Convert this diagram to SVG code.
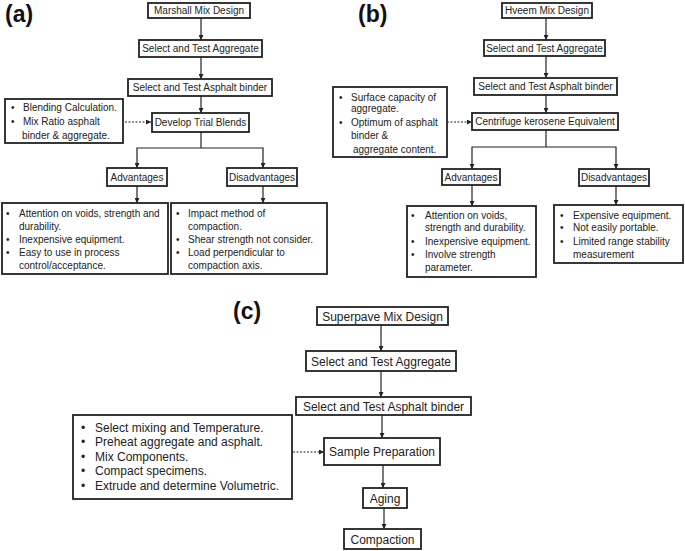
<svg xmlns="http://www.w3.org/2000/svg" width="685" height="551" viewBox="0 0 685 551">
<defs>
<marker id="ah" viewBox="0 0 6 6" refX="6" refY="3" markerWidth="5" markerHeight="5" markerUnits="userSpaceOnUse" orient="auto"><path d="M0,0 L6,3 L0,6 z" fill="#222"/></marker>
<style>
.box{fill:#fff;stroke:#222;stroke-width:1.8}
.t{font-family:"Liberation Sans",Arial,sans-serif;font-size:10px;fill:#222}
.c{text-anchor:middle}
.tl{font-family:"Liberation Sans",Arial,sans-serif;font-size:12px;fill:#222}
.lab{font-family:"Liberation Sans",Arial,sans-serif;font-size:23px;font-weight:bold;fill:#111}
.ln{fill:none;stroke:#222;stroke-width:1.2}
.ar{fill:none;stroke:#222;stroke-width:1.2;marker-end:url(#ah)}
.da{fill:none;stroke:#222;stroke-width:1;stroke-dasharray:2,1.5;marker-end:url(#ah)}
</style>
</defs>
<rect width="685" height="551" fill="#fff"/>

<text class="lab" x="5" y="22">(a)</text>
<text class="lab" x="358" y="22">(b)</text>
<text class="lab" x="233" y="319">(c)</text>

<g id="connectors">
<line class="ar" x1="201" y1="18" x2="201" y2="40"/>
<line class="ar" x1="201" y1="57" x2="201" y2="79"/>
<line class="ar" x1="201" y1="96" x2="201" y2="113"/>
<line class="da" x1="125" y1="122" x2="151" y2="122"/>
<polyline class="ln" points="201,132 201,148"/>
<polyline class="ar" points="201,148 137,148 137,168"/>
<polyline class="ar" points="201,148 263,148 263,168"/>
<line class="ar" x1="137" y1="186" x2="137" y2="203"/>
<line class="ar" x1="263" y1="186" x2="263" y2="203"/>
<line class="ar" x1="546" y1="18" x2="546" y2="40"/>
<line class="ar" x1="546" y1="56" x2="546" y2="78"/>
<line class="ar" x1="546" y1="95" x2="546" y2="113"/>
<line class="da" x1="447" y1="122" x2="472" y2="122"/>
<polyline class="ln" points="546,130 546,147"/>
<polyline class="ar" points="546,147 472,147 472,169"/>
<polyline class="ar" points="546,147 616,147 616,169"/>
<line class="ar" x1="472" y1="185" x2="472" y2="206"/>
<line class="ar" x1="616" y1="186" x2="616" y2="205"/>
<line class="ar" x1="381" y1="325" x2="381" y2="351"/>
<line class="ar" x1="381" y1="371" x2="381" y2="397"/>
<line class="ar" x1="382" y1="415" x2="382" y2="438"/>
<line class="da" x1="293" y1="452" x2="324" y2="452"/>
<line class="ar" x1="383" y1="465" x2="383" y2="488"/>
<line class="ar" x1="384" y1="508" x2="384" y2="529"/>
</g>

<g id="a_marshall"><rect class="box" x="148" y="3" width="102" height="15"/><text class="t c" x="199" y="14">Marshall Mix Design</text></g>
<g id="a_aggregate"><rect class="box" x="139" y="40" width="123" height="17"/><text class="t c" x="200.5" y="52">Select and Test Aggregate</text></g>
<g id="a_binder"><rect class="box" x="128" y="79" width="144" height="17"/><text class="t c" x="200" y="91">Select and Test Asphalt binder</text></g>
<g id="a_trial"><rect class="box" x="152" y="113" width="97" height="19"/><text class="t c" x="200.5" y="126">Develop Trial Blends</text></g>
<g id="a_note"><rect class="box" x="5" y="99" width="118" height="44"/>
<text class="t" x="11" y="110.5">•</text><text class="t" x="23" y="110.5">Blending Calculation.</text>
<text class="t" x="11" y="124.5">•</text><text class="t" x="23" y="124.5">Mix Ratio asphalt</text>
<text class="t" x="22" y="138.5">binder &amp; aggregate.</text></g>
<g id="a_adv"><rect class="box" x="107" y="168" width="60" height="18"/><text class="t c" x="137" y="180.5">Advantages</text></g>
<g id="a_dis"><rect class="box" x="227" y="168" width="70" height="18"/><text class="t c" x="262" y="180.5">Disadvantages</text></g>
<g id="a_advlist"><rect class="box" x="2" y="203" width="166" height="71"/>
<text class="t" x="6" y="216.5">•</text><text class="t" x="19" y="216.5">Attention on voids, strength and</text>
<text class="t" x="19" y="229.5">durability.</text>
<text class="t" x="6" y="242.5">•</text><text class="t" x="19" y="242.5">Inexpensive equipment.</text>
<text class="t" x="6" y="255.5">•</text><text class="t" x="19" y="255.5">Easy to use in process</text>
<text class="t" x="19" y="268.5">control/acceptance.</text></g>
<g id="a_dislist"><rect class="box" x="171" y="203" width="156" height="71"/>
<text class="t" x="176" y="216.5">•</text><text class="t" x="188" y="216.5">Impact method of</text>
<text class="t" x="188" y="229.5">compaction.</text>
<text class="t" x="176" y="242.5">•</text><text class="t" x="188" y="242.5">Shear strength not consider.</text>
<text class="t" x="176" y="255.5">•</text><text class="t" x="188" y="255.5">Load perpendicular to</text>
<text class="t" x="188" y="268.5">compaction axis.</text></g>

<g id="b_hveem"><rect class="box" x="502" y="3" width="90" height="15"/><text class="t c" x="547" y="14">Hveem Mix Design</text></g>
<g id="b_aggregate"><rect class="box" x="484" y="40" width="121" height="16"/><text class="t c" x="544.5" y="51.5">Select and Test Aggregate</text></g>
<g id="b_binder"><rect class="box" x="474" y="78" width="143" height="17"/><text class="t c" x="545.5" y="90">Select and Test Asphalt binder</text></g>
<g id="b_cke"><rect class="box" x="472" y="113" width="146" height="17"/><text class="t c" x="545" y="125">Centrifuge kerosene Equivalent</text></g>
<g id="b_note"><rect class="box" x="333" y="87" width="114" height="70"/>
<text class="t" x="339" y="100.5">•</text><text class="t" x="351" y="100.5">Surface capacity of</text>
<text class="t" x="351" y="111.5">aggregate.</text>
<text class="t" x="339" y="125.5">•</text><text class="t" x="351" y="125.5">Optimum of asphalt</text>
<text class="t" x="351" y="138.5">binder &amp;</text>
<text class="t" x="353" y="152.5">aggregate content.</text></g>
<g id="b_adv"><rect class="box" x="442" y="169" width="58" height="16"/><text class="t c" x="471" y="180.5">Advantages</text></g>
<g id="b_dis"><rect class="box" x="579" y="169" width="70" height="17"/><text class="t c" x="614" y="181">Disadvantages</text></g>
<g id="b_advlist"><rect class="box" x="407" y="206" width="129" height="71"/>
<text class="t" x="411" y="218.5">•</text><text class="t" x="425" y="218.5">Attention on voids,</text>
<text class="t" x="425" y="231">strength and durability.</text>
<text class="t" x="411" y="244.5">•</text><text class="t" x="425" y="244.5">Inexpensive equipment.</text>
<text class="t" x="411" y="257.5">•</text><text class="t" x="425" y="257.5">Involve strength</text>
<text class="t" x="425" y="270.5">parameter.</text></g>
<g id="b_dislist"><rect class="box" x="554" y="205" width="129" height="58"/>
<text class="t" x="560" y="218.5">•</text><text class="t" x="573" y="218.5">Expensive equipment.</text>
<text class="t" x="560" y="231">•</text><text class="t" x="573" y="231">Not easily portable.</text>
<text class="t" x="560" y="244.5">•</text><text class="t" x="573" y="244.5">Limited range stability</text>
<text class="t" x="573" y="257.5">measurement</text></g>

<g id="c_superpave"><rect class="box" x="317" y="307" width="131" height="18"/><text class="tl c" x="382.5" y="320.5">Superpave Mix Design</text></g>
<g id="c_aggregate"><rect class="box" x="306" y="351" width="150" height="20"/><text class="tl c" x="381" y="365.5">Select and Test Aggregate</text></g>
<g id="c_binder"><rect class="box" x="296" y="397" width="175" height="18"/><text class="tl c" x="383.5" y="410.5">Select and Test Asphalt binder</text></g>
<g id="c_sample"><rect class="box" x="324" y="438" width="116" height="27"/><text class="tl c" x="382" y="456">Sample Preparation</text></g>
<g id="c_aging"><rect class="box" x="363" y="488" width="44" height="20"/><text class="tl c" x="385" y="502.5">Aging</text></g>
<g id="c_compaction"><rect class="box" x="344" y="529" width="77" height="20"/><text class="tl c" x="382.5" y="543.5">Compaction</text></g>
<g id="c_note"><rect class="box" x="73" y="415" width="219" height="84"/>
<text class="tl" x="81" y="431.5">•</text><text class="tl" x="95" y="431.5">Select mixing and Temperature.</text>
<text class="tl" x="81" y="446">•</text><text class="tl" x="95" y="446">Preheat aggregate and asphalt.</text>
<text class="tl" x="81" y="460.5">•</text><text class="tl" x="95" y="460.5">Mix Components.</text>
<text class="tl" x="81" y="475">•</text><text class="tl" x="95" y="475">Compact specimens.</text>
<text class="tl" x="81" y="489.5">•</text><text class="tl" x="95" y="489.5">Extrude and determine Volumetric.</text></g>
</svg>
